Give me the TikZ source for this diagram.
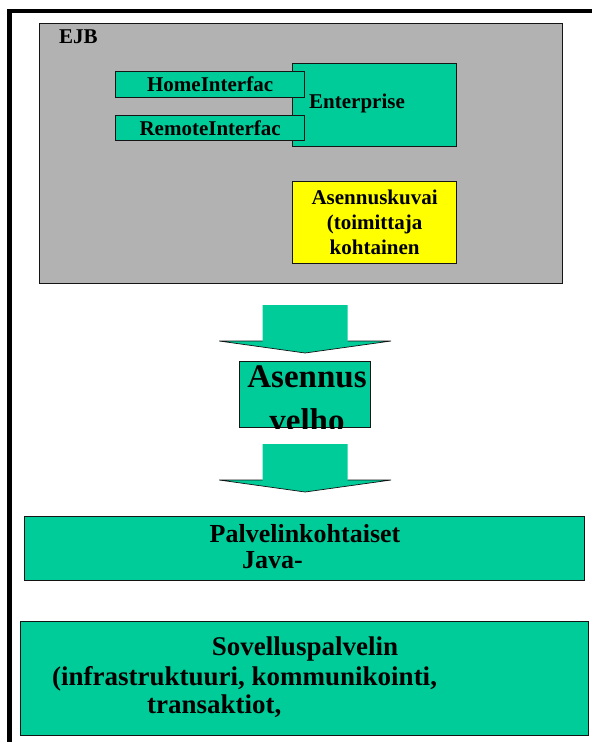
\documentclass[tikz,border=0pt]{standalone}
\usepackage{fontspec}
\setmainfont{Liberation Serif}
\usepackage{tikz}
\usetikzlibrary{positioning, calc}
\definecolor{beanColor}{RGB}{0, 204, 153}
\definecolor{panelColor}{RGB}{178, 178, 178}
\definecolor{noteColor}{RGB}{255, 255, 0}
\definecolor{edgeColor}{RGB}{20, 20, 20}

% block arrow from shaft top (#1) down to tip (#2)
\newcommand{\blockarrow}[2]{%
  \fill[beanColor] let \p1=(#1), \p2=(#2) in
    (\x1-42.5pt,\y1) -- (\x1+42.5pt,\y1) -- (\x1+42.5pt,\y2+12pt) -- (\x1+86pt,\y2+12pt)
    -- (\x1,\y2) -- (\x1-86pt,\y2+12pt) -- (\x1-42.5pt,\y2+12pt) -- cycle;
  \draw[edgeColor, line width=0.7pt] let \p1=(#1), \p2=(#2) in
    (\x1-42.5pt,\y2+12pt) -- (\x1-86pt,\y2+12pt) -- (\x1,\y2) -- (\x1+86pt,\y2+12pt) -- (\x1+42.5pt,\y2+12pt);
}

\begin{document}
\begin{tikzpicture}[
        x=1pt, y=-1pt,
        box/.style={rectangle, draw=edgeColor, line width=1.2pt, fill=beanColor, inner sep=0pt, anchor=north west},
        panel/.style={box, fill=panelColor},
        iface/.style={box, font=\fontsize{21}{24}\selectfont\bfseries},
        note/.style={box, fill=noteColor, align=center, font=\fontsize{21}{25}\selectfont\bfseries},
        txt/.style={inner sep=0pt, font=\fontsize{21}{24}\selectfont\bfseries},
        bigtxt/.style={inner sep=0pt, align=center, font=\fontsize{33}{44}\selectfont\bfseries},
        midtxt/.style={inner sep=0pt, font=\fontsize{26}{28}\selectfont\bfseries},
        lowtxt/.style={inner sep=0pt, font=\fontsize{27}{29}\selectfont\bfseries}
    ]
    \useasboundingbox (0,0) rectangle (592,742);
    % outer frame
    \draw[line width=4.5pt] (9.5,742) -- (9.5,11) -- (592,11);

    % Nodes
    \node (ejb) [panel, minimum width=523pt, minimum height=260pt] at (39,23) {};
    \node (ejbtext) [txt, anchor=base west] at (59,43) {EJB};
    \node (bean) [box, minimum width=164pt, minimum height=83pt] at (292,63) {};
    \node (beantext) [txt, anchor=base west] at (309,108) {Enterprise};
    \node (home) [iface, minimum width=189pt, minimum height=26pt] at (115,71) {HomeInterfac};
    \node (remote) [iface, minimum width=189pt, minimum height=25pt] at (115,115) {RemoteInterfac};
    \node (descriptor) [note, minimum width=164pt, minimum height=82pt] at (292,181) {Asennuskuvai\\(toimittaja\\kohtainen};

    \node (wizard) [box, minimum width=131pt, minimum height=66pt] at (239,361) {};
    \begin{scope}
        \clip (wizard.north west) rectangle (wizard.south east);
        \node (wizardtext) [bigtxt, anchor=base] at (307,431) {Asennus\\velho};
    \end{scope}

    \node (specific) [box, minimum width=560pt, minimum height=64pt] at (24,516) {};
    \node (specifictext) [midtxt, anchor=base] at (305,542) {Palvelinkohtaiset};
    \node (javatext) [midtxt, anchor=base west] at (242,568) {Java-};

    \node (server) [box, minimum width=568pt, minimum height=114pt] at (20,621) {};
    \node (servertext) [lowtxt, anchor=base] at (305,655) {Sovelluspalvelin};
    \node (infratext) [lowtxt, anchor=base west] at (52,685) {(infrastruktuuri, kommunikointi,};
    \node (txtext) [lowtxt, anchor=base west] at (147,713) {transaktiot,};

    % Connectors
    \coordinate (a1top) at ([yshift=56pt]wizard.north);
    \coordinate (a1tip) at ([yshift=8pt]wizard.north);
    \coordinate (a2top) at ([yshift=-16pt]wizard.south);
    \coordinate (a2tip) at ([yshift=24pt]specific.north);
    \blockarrow{a1top}{a1tip}
    \blockarrow{a2top}{a2tip}
\end{tikzpicture}
\end{document}
